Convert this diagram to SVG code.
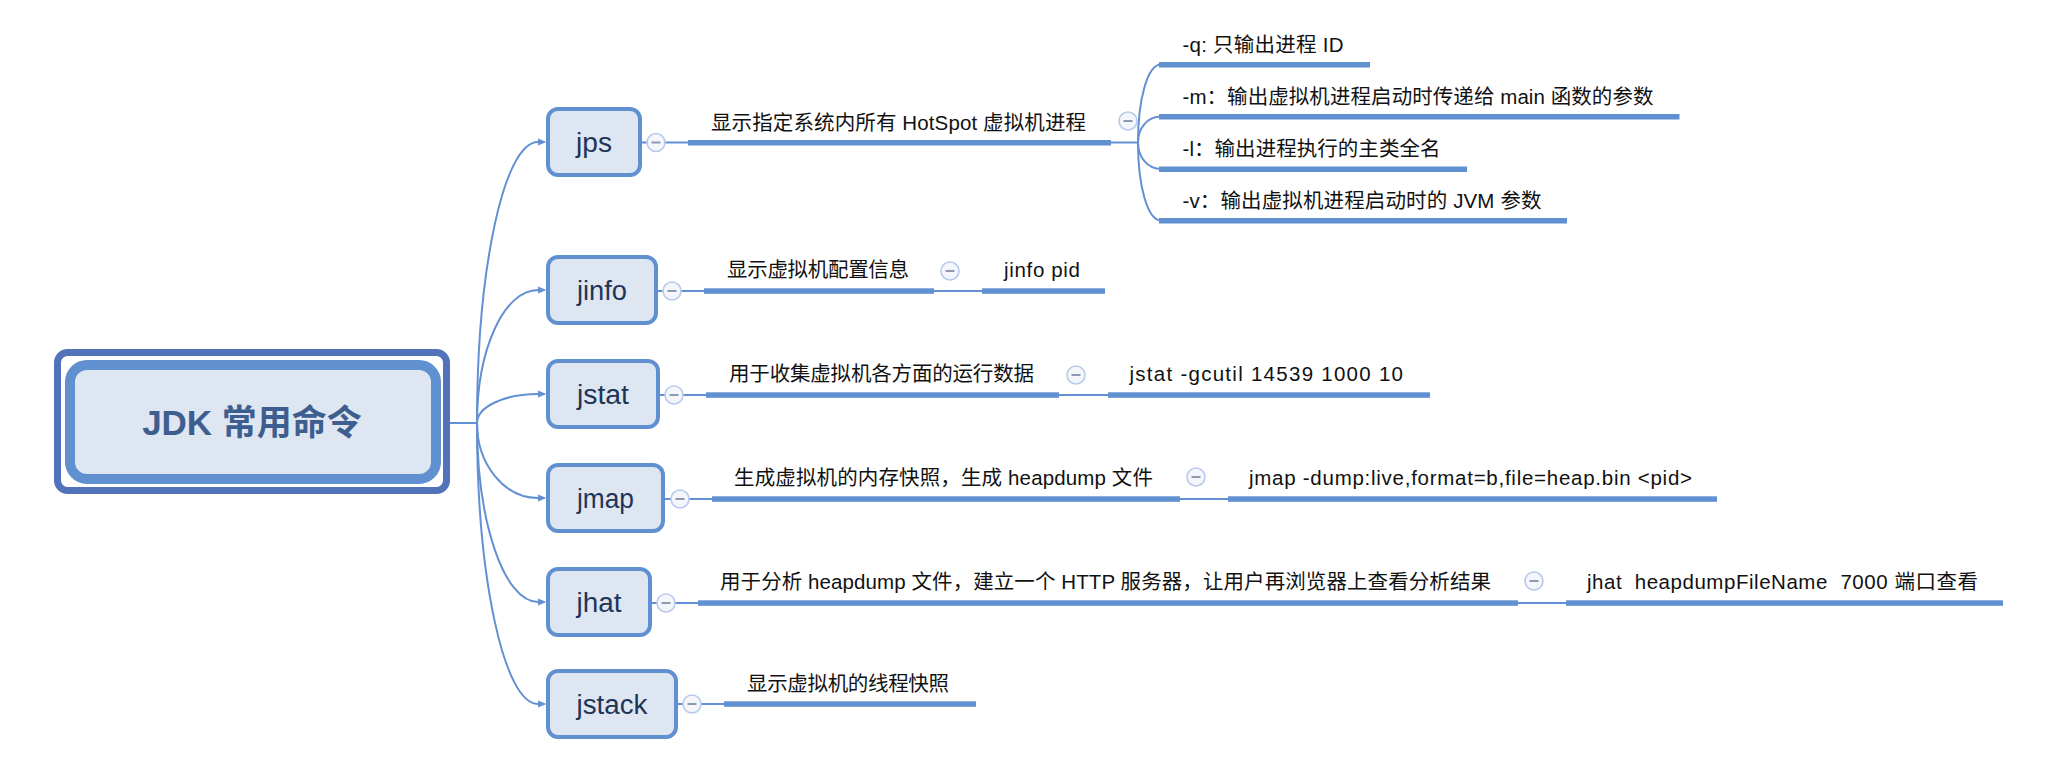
<svg xmlns="http://www.w3.org/2000/svg" width="2064" height="766" viewBox="0 0 2064 766">
<style>
text{font-family:"Liberation Sans","Noto Sans CJK SC",sans-serif}
.box{fill:#DEE6F2;stroke:#6190D0;stroke-width:4}
.bt{font-size:27px;fill:#1E3558;text-anchor:middle}
.lb{font-size:20.5px;fill:#111}
.ul{fill:#6190D0}
.ln{fill:none;stroke:#6290D3;stroke-width:2}
.cc{fill:#F4F6FB;stroke:#B9CAEC;stroke-width:1.6}
.cm{stroke:#8E9AB4;stroke-width:2}
</style>
<defs>
<marker id="arr" markerUnits="userSpaceOnUse" markerWidth="9" markerHeight="8" refX="0" refY="4" orient="auto">
<path d="M0,0.5 L8.5,4 L0,7.5 z" fill="#6290D3"/>
</marker>
<g id="col"><circle class="cc" r="9"/><line class="cm" x1="-4.5" y1="0" x2="4.5" y2="0"/></g>
</defs>
<rect width="2064" height="766" fill="#fff"/>

<g id="connectors">
<line class="ln" x1="441" y1="423" x2="477" y2="423"/>
<path class="ln" marker-end="url(#arr)" d="M477,423 C477,268 504,142 538,142"/>
<path class="ln" marker-end="url(#arr)" d="M477,423 C477,349 504,290 538,290"/>
<path class="ln" marker-end="url(#arr)" d="M477,423 C477,407 504,394 538,394"/>
<path class="ln" marker-end="url(#arr)" d="M477,423 C477,464 504,498 538,498"/>
<path class="ln" marker-end="url(#arr)" d="M477,423 C477,522 504,602 538,602"/>
<path class="ln" marker-end="url(#arr)" d="M477,423 C477,578 504,704 538,704"/>
<line class="ln" x1="642" y1="142.5" x2="690" y2="142.5"/>
<line class="ln" x1="658" y1="291" x2="706" y2="291"/>
<line class="ln" x1="660" y1="395" x2="708" y2="395"/>
<line class="ln" x1="665" y1="499" x2="714" y2="499"/>
<line class="ln" x1="652" y1="603" x2="700" y2="603"/>
<line class="ln" x1="678" y1="704" x2="726" y2="704"/>
<line class="ln" x1="1109" y1="142.5" x2="1138" y2="142.5"/>
<path class="ln" d="M1138,142.5 C1138,99 1147.5,64.5 1161,64.5"/>
<path class="ln" d="M1138,142.5 C1138,128 1147.5,116.5 1161,116.5"/>
<path class="ln" d="M1138,142.5 C1138,157 1147.5,169 1161,169"/>
<path class="ln" d="M1138,142.5 C1138,186 1147.5,220.5 1161,220.5"/>
<line class="ln" x1="932" y1="291" x2="984" y2="291"/>
<line class="ln" x1="1057" y1="395" x2="1110" y2="395"/>
<line class="ln" x1="1178" y1="499" x2="1230" y2="499"/>
<line class="ln" x1="1516" y1="603" x2="1568" y2="603"/>
</g>

<g id="root">
<rect x="57.5" y="352.5" width="389" height="138" rx="10" fill="#fff" stroke="#5272B9" stroke-width="7"/>
<rect x="70" y="365" width="366" height="114" rx="17" fill="#DEE6F2" stroke="#6190D0" stroke-width="10"/>
<text x="252" y="435" font-size="35" font-weight="bold" fill="#3E5E8F" text-anchor="middle">JDK 常用命令</text>
</g>

<g id="jps">
<rect class="box" x="548" y="109" width="92" height="66" rx="10"/>
<text class="bt" x="594" y="152" textLength="36" lengthAdjust="spacingAndGlyphs">jps</text>
<use href="#col" x="656" y="142.5"/>
</g>
<g id="jps-desc">
<rect class="ul" x="688" y="140" width="423" height="5.5"/>
<text class="lb" x="711" y="130" textLength="375" lengthAdjust="spacing">显示指定系统内所有 HotSpot 虚拟机进程</text>
<use href="#col" x="1128" y="121"/>
</g>
<g id="jps-q">
<rect class="ul" x="1159" y="62" width="211" height="5.5"/>
<text class="lb" x="1182.5" y="51.5" textLength="161" lengthAdjust="spacing">-q: 只输出进程 ID</text>
</g>
<g id="jps-m">
<rect class="ul" x="1159" y="114" width="520.5" height="5.5"/>
<text class="lb" x="1182.5" y="103.5" textLength="471" lengthAdjust="spacing">-m：输出虚拟机进程启动时传递给 main 函数的参数</text>
</g>
<g id="jps-l">
<rect class="ul" x="1159" y="166.5" width="308" height="5.5"/>
<text class="lb" x="1182.5" y="155.5" textLength="258" lengthAdjust="spacing">-l：输出进程执行的主类全名</text>
</g>
<g id="jps-v">
<rect class="ul" x="1159" y="218" width="408" height="5.5"/>
<text class="lb" x="1182.5" y="207.5" textLength="359" lengthAdjust="spacing">-v：输出虚拟机进程启动时的 JVM 参数</text>
</g>

<g id="jinfo">
<rect class="box" x="548" y="257" width="108" height="66" rx="10"/>
<text class="bt" x="602" y="300" textLength="50" lengthAdjust="spacingAndGlyphs">jinfo</text>
<use href="#col" x="672" y="291"/>
</g>
<g id="jinfo-desc">
<rect class="ul" x="704" y="288.3" width="230" height="5.5"/>
<text class="lb" x="727" y="277" textLength="182" lengthAdjust="spacing">显示虚拟机配置信息</text>
<use href="#col" x="950" y="271"/>
</g>
<g id="jinfo-cmd">
<rect class="ul" x="982" y="288.3" width="123" height="5.5"/>
<text class="lb" x="1004" y="277" textLength="76" lengthAdjust="spacing">jinfo pid</text>
</g>

<g id="jstat">
<rect class="box" x="548" y="361" width="110" height="66" rx="10"/>
<text class="bt" x="603" y="404" textLength="52" lengthAdjust="spacingAndGlyphs">jstat</text>
<use href="#col" x="674" y="395"/>
</g>
<g id="jstat-desc">
<rect class="ul" x="706" y="392.3" width="353" height="5.5"/>
<text class="lb" x="729" y="381" textLength="305" lengthAdjust="spacing">用于收集虚拟机各方面的运行数据</text>
<use href="#col" x="1076" y="375"/>
</g>
<g id="jstat-cmd">
<rect class="ul" x="1108" y="392.3" width="322" height="5.5"/>
<text class="lb" x="1129.5" y="381" textLength="273.5" lengthAdjust="spacing">jstat -gcutil 14539 1000 10</text>
</g>

<g id="jmap">
<rect class="box" x="548" y="465" width="115" height="66" rx="10"/>
<text class="bt" x="605.5" y="508" textLength="57" lengthAdjust="spacingAndGlyphs">jmap</text>
<use href="#col" x="680" y="499"/>
</g>
<g id="jmap-desc">
<rect class="ul" x="712" y="496.3" width="468" height="5.5"/>
<text class="lb" x="734" y="485" textLength="419" lengthAdjust="spacing">生成虚拟机的内存快照，生成 heapdump 文件</text>
<use href="#col" x="1196" y="477"/>
</g>
<g id="jmap-cmd">
<rect class="ul" x="1228" y="496.3" width="489" height="5.5"/>
<text class="lb" x="1249" y="485" textLength="443" lengthAdjust="spacing">jmap -dump:live,format=b,file=heap.bin &lt;pid&gt;</text>
</g>

<g id="jhat">
<rect class="box" x="548" y="569" width="102" height="66" rx="10"/>
<text class="bt" x="599" y="612" textLength="45" lengthAdjust="spacingAndGlyphs">jhat</text>
<use href="#col" x="666" y="603"/>
</g>
<g id="jhat-desc">
<rect class="ul" x="698" y="600.3" width="820" height="5.5"/>
<text class="lb" x="720" y="589" textLength="771" lengthAdjust="spacing">用于分析 heapdump 文件，建立一个 HTTP 服务器，让用户再浏览器上查看分析结果</text>
<use href="#col" x="1534" y="581"/>
</g>
<g id="jhat-cmd">
<rect class="ul" x="1566" y="600.3" width="437" height="5.5"/>
<text class="lb" x="1587" y="589" textLength="391" lengthAdjust="spacing" xml:space="preserve">jhat  heapdumpFileName  7000 端口查看</text>
</g>

<g id="jstack">
<rect class="box" x="548" y="671" width="128" height="66" rx="10"/>
<text class="bt" x="612" y="714" textLength="71" lengthAdjust="spacingAndGlyphs">jstack</text>
<use href="#col" x="692" y="704"/>
</g>
<g id="jstack-desc">
<rect class="ul" x="724" y="701.3" width="252" height="5.5"/>
<text class="lb" x="747" y="691" textLength="202" lengthAdjust="spacing">显示虚拟机的线程快照</text>
</g>
</svg>
